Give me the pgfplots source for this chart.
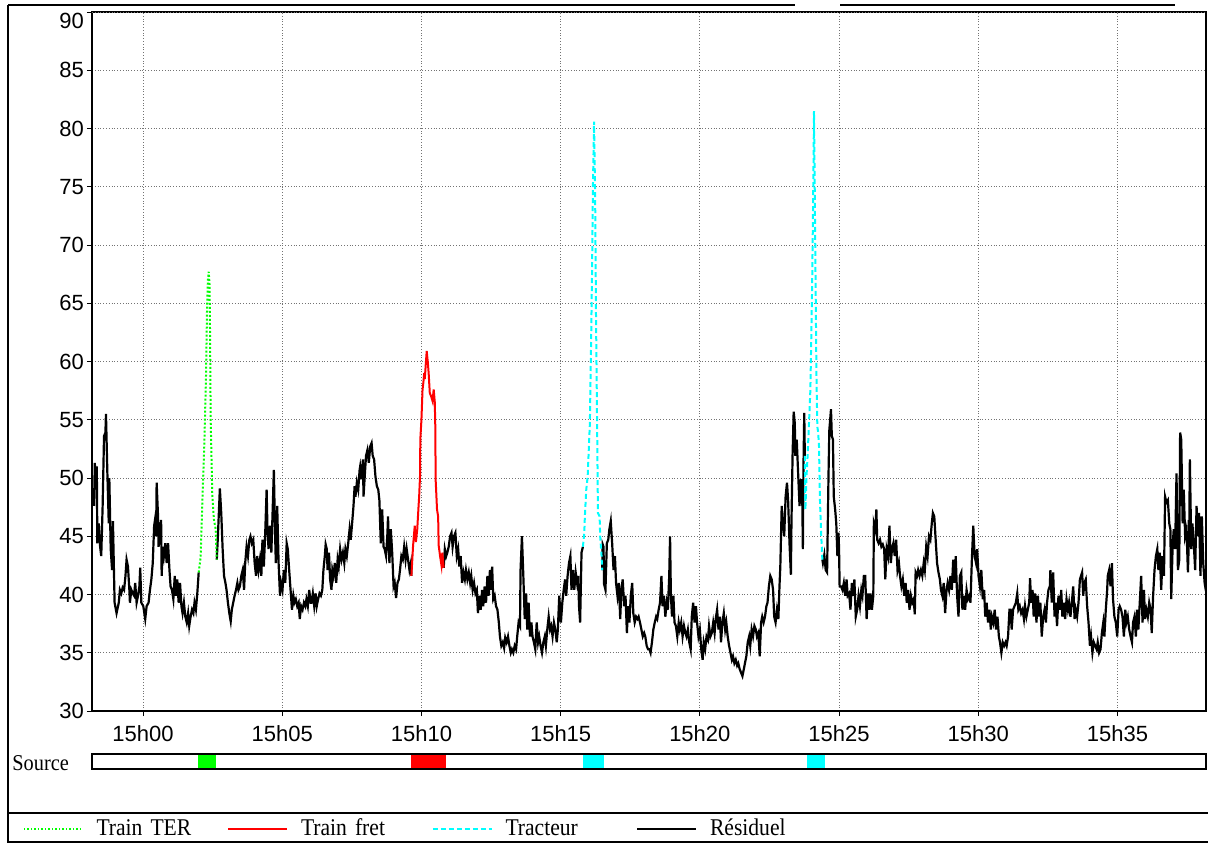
\documentclass[border=0pt]{standalone}
\usepackage{fontspec}
\setmainfont{Liberation Serif}[FakeStretch=0.9]
\newfontfamily\arial{Liberation Sans}
\usepackage{pgfplots}
\pgfplotsset{compat=1.18}
\definecolor{cTER}{RGB}{0,255,0}
\definecolor{cFret}{RGB}{255,0,0}
\definecolor{cTrac}{RGB}{0,255,255}
\begin{document}
\begin{tikzpicture}
\useasboundingbox (0,0) rectangle (604pt,-421.5pt);
\draw[line width=1pt] (4pt,-2.5pt) -- (4pt,-421.5pt);
\draw[line width=1pt] (4pt,-2.5pt) -- (397.5pt,-2.5pt);
\draw[line width=1pt] (420pt,-2.5pt) -- (587.5pt,-2.5pt);
\draw[line width=1pt] (4pt,-406.5pt) -- (604pt,-406.5pt);
\draw[line width=1pt] (4pt,-421pt) -- (604pt,-421pt);
\begin{axis}[
 at={(46pt,-355.5pt)}, anchor=south west,
 scale only axis, width=557pt, height=349.5pt,
 xmin=-1.832, xmax=38.18, ymin=30, ymax=90,
 xtick={0,5,...,35},
 xticklabels={15h00,15h05,15h10,15h15,15h20,15h25,15h30,15h35},
 ytick={30,35,...,85}, extra y ticks={90},
 extra y tick style={yticklabel style={yshift=-4.5pt}},
 grid=major, major grid style={densely dotted, gray!90!black, line width=0.5pt},
 tick align=outside, tick pos=left, major tick length=2.5pt,
 tick style={black, line width=0.5pt},
 axis line style={line width=1pt},
 ticklabel style={font=\arial\fontsize{11}{13}\selectfont},
 yticklabel style={xshift=2pt},
 xticklabel style={yshift=-1pt},
 /pgf/number format/assume math mode=true,
 legend columns=4,
 legend cell align=left,
 legend image code/.code={\draw[#1] (0pt,0pt) -- (29.5pt,0pt);},
 legend style={at={(-0.06194,-0.1688)}, anchor=west, draw=none, fill=none,
   inner sep=0pt, outer sep=0pt, font=\fontsize{12}{14}\selectfont,
   nodes={inner sep=0pt},
   /tikz/every odd column/.append style={column sep=6.5pt},
   /tikz/every even column/.append style={column sep=0pt}},
]
% Residuel segments
\addplot[black, line width=1.1pt, forget plot] coordinates {
(-1.76,47.6)(-1.73,51.3)(-1.70,49.0)(-1.66,51.0)(-1.64,44.4)(-1.59,46.1)(-1.54,44.1)(-1.50,43.3)(-1.45,47.6)(-1.40,53.6)(-1.35,53.9)(-1.33,55.5)(-1.28,50.4)(-1.23,46.1)(-1.21,50.0)(-1.16,43.9)(-1.11,42.1)(-1.08,46.3)(-1.04,41.6)(-1.02,39.3)(-0.95,38.4)(-0.87,39.3)(-0.83,40.4)(-0.78,40.1)(-0.73,40.6)(-0.68,40.4)(-0.63,41.6)(-0.59,43.0)(-0.54,42.4)(-0.49,40.4)(-0.47,39.3)(-0.42,40.4)(-0.37,40.1)(-0.32,39.9)(-0.28,41.0)(-0.23,39.3)(-0.18,39.9)(-0.13,40.7)(-0.10,42.3)(-0.06,39.3)(0.01,39.0)(0.08,37.9)(0.13,39.0)(0.20,39.3)(0.25,40.4)(0.30,41.3)(0.35,42.7)(0.40,45.9)(0.43,46.4)(0.47,45.0)(0.49,49.6)(0.54,46.7)(0.56,44.1)(0.61,45.6)(0.65,46.4)(0.67,41.6)(0.71,44.1)(0.75,43.3)(0.80,44.4)(0.85,42.7)(0.90,44.4)(0.95,42.1)(0.99,40.7)(1.04,40.4)(1.09,39.6)(1.14,41.6)(1.18,39.9)(1.23,41.3)(1.28,39.3)(1.33,41.0)(1.38,39.0)(1.42,38.4)(1.47,39.3)(1.52,38.1)(1.57,37.6)(1.62,38.4)(1.66,37.3)(1.71,38.1)(1.76,38.7)(1.81,38.4)(1.85,39.3)(1.90,38.7)(1.95,40.1)(2.00,41.9)
};
\addplot[black, line width=1.1pt, forget plot] coordinates {
(2.65,43.0)(2.69,45.0)(2.76,49.1)(2.81,47.0)(2.86,43.9)(2.91,41.6)(2.96,41.0)(3.00,40.4)(3.05,39.3)(3.10,38.4)(3.15,37.7)(3.19,38.7)(3.24,39.3)(3.29,39.9)(3.34,40.4)(3.39,41.0)(3.43,40.4)(3.48,40.7)(3.53,41.6)(3.58,42.1)(3.63,40.4)(3.67,42.7)(3.72,44.1)(3.77,43.3)(3.82,44.7)(3.86,45.0)(3.91,44.4)(3.96,44.7)(4.01,42.7)(4.06,41.6)(4.10,43.3)(4.15,42.1)(4.20,43.0)(4.25,41.6)(4.29,44.7)(4.34,42.4)(4.39,45.3)(4.44,49.0)(4.47,45.6)(4.51,43.9)(4.56,45.9)(4.61,43.6)(4.65,46.7)(4.70,50.7)(4.74,45.6)(4.77,42.7)(4.82,47.6)(4.87,42.7)(4.92,39.9)(4.96,41.0)(5.01,40.4)(5.06,42.1)(5.11,41.0)(5.16,44.4)(5.20,43.9)(5.25,42.1)(5.30,40.4)(5.35,38.7)(5.40,39.9)(5.44,39.3)(5.49,39.6)(5.54,39.0)(5.59,39.3)(5.63,37.9)(5.68,39.0)(5.73,38.7)(5.78,39.3)(5.83,39.0)(5.87,39.6)(5.92,39.0)(5.97,40.4)(6.02,39.3)(6.05,39.3)(6.10,40.1)(6.15,39.0)(6.20,40.1)(6.24,39.0)(6.29,39.6)(6.34,40.1)(6.39,39.9)(6.44,40.4)(6.48,42.1)(6.53,43.3)(6.56,44.3)(6.60,43.9)(6.63,42.1)(6.68,43.6)(6.72,41.3)(6.77,40.4)(6.80,42.1)(6.84,41.6)(6.89,42.7)(6.94,41.0)(6.99,43.0)(7.03,42.4)(7.08,43.9)(7.13,43.0)(7.18,43.6)(7.23,42.7)(7.27,43.9)(7.32,43.3)(7.37,44.4)(7.42,45.6)(7.46,44.7)(7.51,46.1)(7.56,47.6)(7.60,49.3)(7.63,48.4)(7.68,49.6)(7.73,49.0)(7.78,50.7)(7.80,51.0)(7.85,49.9)(7.90,51.6)(7.92,48.4)(7.97,50.4)(8.01,51.9)(8.06,52.4)(8.11,51.3)(8.16,52.7)(8.21,53.0)(8.25,51.9)(8.30,51.6)(8.35,50.1)(8.40,49.3)(8.45,49.0)(8.49,48.1)(8.54,44.4)(8.59,47.3)(8.64,44.1)(8.68,43.9)(8.73,43.3)(8.78,45.3)(8.80,46.7)(8.85,42.7)(8.90,45.6)(8.95,43.6)(9.00,40.7)(9.04,41.0)(9.09,39.7)(9.14,41.0)(9.19,41.3)(9.23,42.1)(9.28,43.3)(9.33,43.0)(9.38,44.1)(9.43,43.0)(9.47,43.9)(9.52,43.0)(9.57,42.1)(9.62,42.7)(9.64,41.6)
};
\addplot[black, line width=1.1pt, forget plot] coordinates {
(10.80,42.3)(10.84,43.9)(10.89,43.3)(10.93,43.6)(10.98,44.1)(11.03,45.0)(11.08,45.3)(11.12,44.1)(11.17,45.0)(11.22,45.3)(11.27,43.3)(11.32,43.9)(11.36,42.4)(11.41,43.3)(11.46,41.0)(11.51,41.9)(11.56,41.3)(11.60,42.1)(11.65,41.3)(11.70,41.9)(11.75,41.0)(11.79,41.6)(11.84,40.4)(11.89,41.0)(11.94,40.1)(11.99,40.4)(12.03,38.4)(12.08,39.9)(12.13,38.7)(12.18,40.4)(12.22,39.0)(12.27,40.7)(12.32,39.3)(12.37,41.6)(12.42,39.9)(12.46,42.1)(12.51,40.4)(12.54,42.4)(12.58,39.6)(12.63,39.9)(12.68,39.0)(12.73,38.7)(12.78,37.6)(12.82,36.4)(12.87,35.6)(12.92,35.9)(12.97,35.4)(13.01,36.3)(13.06,35.9)(13.11,36.4)(13.16,35.6)(13.21,35.0)(13.25,35.3)(13.30,35.0)(13.35,35.6)(13.40,35.3)(13.44,36.4)(13.49,37.6)(13.54,37.3)(13.56,42.1)(13.61,45.0)(13.66,41.6)(13.71,37.9)(13.76,40.1)(13.80,37.0)(13.85,39.3)(13.90,36.4)(13.95,37.6)(13.99,36.4)(14.04,35.9)(14.09,35.3)(14.14,37.6)(14.19,35.9)(14.23,36.4)(14.28,35.6)(14.33,35.0)(14.38,35.9)(14.43,36.4)(14.47,35.6)(14.52,37.0)(14.57,38.1)(14.62,37.0)(14.66,37.3)(14.71,36.4)(14.76,37.6)(14.81,37.0)(14.86,35.9)(14.90,37.0)(14.95,39.9)(15.01,37.6)(15.06,39.3)(15.11,40.4)(15.16,41.3)(15.20,39.9)(15.25,41.6)(15.30,42.7)(15.35,43.3)(15.39,40.4)(15.44,42.1)(15.49,40.4)(15.54,41.9)(15.59,41.0)(15.63,41.6)(15.66,39.0)(15.70,37.6)(15.75,43.6)(15.80,44.1)
};
\addplot[black, line width=1.1pt, forget plot] coordinates {
(16.49,42.1)(16.51,44.3)(16.54,44.1)(16.56,40.9)(16.61,40.4)(16.66,44.4)(16.71,44.7)(16.75,45.6)(16.80,46.3)(16.85,44.4)(16.90,42.1)(16.95,43.3)(16.99,41.0)(17.04,39.9)(17.09,41.0)(17.14,37.9)(17.18,40.4)(17.23,41.3)(17.28,39.0)(17.33,39.9)(17.38,36.7)(17.42,39.0)(17.47,37.6)(17.52,39.9)(17.57,41.0)(17.61,38.4)(17.66,37.6)(17.71,38.1)(17.76,37.9)(17.80,38.1)(17.85,37.6)(17.90,37.0)(17.95,36.4)(18.00,36.7)(18.04,36.4)(18.09,35.6)(18.14,35.3)(18.19,35.3)(18.23,35.0)(18.28,35.9)(18.33,37.0)(18.38,37.6)(18.43,38.1)(18.47,37.9)(18.52,38.7)(18.57,39.3)(18.62,41.6)(18.66,39.0)(18.71,39.9)(18.76,38.1)(18.81,39.3)(18.85,38.7)(18.90,41.6)(18.93,45.0)(18.96,39.9)(19.00,38.1)(19.05,39.9)(19.09,37.6)(19.14,37.3)(19.19,36.4)(19.24,37.6)(19.28,37.0)(19.33,37.6)(19.38,36.4)(19.43,37.3)(19.48,36.7)(19.52,36.4)(19.57,37.0)(19.62,35.9)(19.67,35.3)(19.71,38.1)(19.76,39.3)(19.81,37.6)(19.86,39.0)(19.90,37.6)(19.95,36.4)(20.00,37.0)(20.05,35.3)(20.10,34.4)(20.14,35.9)(20.19,35.3)(20.24,36.4)(20.29,36.1)(20.33,37.3)(20.38,36.4)(20.43,36.7)(20.48,37.6)(20.53,36.7)(20.57,37.9)(20.62,38.7)(20.67,37.0)(20.72,38.1)(20.76,35.9)(20.81,37.6)(20.86,38.4)(20.91,37.0)(20.95,37.6)(21.00,36.4)(21.05,35.6)(21.10,35.0)(21.15,34.4)(21.19,34.7)(21.24,34.1)(21.29,34.4)(21.34,33.9)(21.38,34.1)(21.43,33.6)(21.48,33.3)(21.53,33.0)(21.58,33.6)(21.62,34.1)(21.67,34.7)(21.72,35.9)(21.77,36.4)(21.81,35.6)(21.86,37.0)(21.91,36.4)(21.96,37.3)(22.01,37.0)(22.05,36.4)(22.10,36.7)(22.15,34.7)(22.20,37.6)(22.24,38.1)(22.29,37.6)(22.34,38.1)(22.39,39.0)(22.43,39.3)(22.48,40.7)(22.53,41.6)(22.58,41.3)(22.63,40.4)(22.67,38.1)(22.72,37.6)(22.77,38.7)(22.82,37.9)(22.86,40.7)(22.89,42.4)(22.94,47.6)(22.98,46.1)(23.03,45.0)(23.08,48.4)(23.13,49.6)(23.17,48.1)(23.22,44.4)(23.27,41.7)(23.29,46.1)(23.33,51.9)(23.37,55.7)(23.41,54.7)(23.43,51.9)(23.48,53.3)(23.53,50.4)(23.58,47.6)(23.63,49.9)(23.68,47.9)(23.70,43.9)(23.72,50.7)(23.75,55.6)(23.77,51.9)
};
\addplot[black, line width=1.1pt, forget plot] coordinates {
(24.40,43.0)(24.42,42.7)(24.47,43.4)(24.52,42.1)(24.57,41.9)(24.62,50.1)(24.65,54.1)(24.69,55.3)(24.71,55.9)(24.74,53.6)(24.78,53.3)(24.81,48.4)(24.86,47.3)(24.90,46.1)(24.94,43.3)(24.98,45.3)(25.00,43.9)(25.02,40.7)(25.07,40.7)(25.12,40.4)(25.17,41.0)(25.22,39.9)(25.27,41.3)(25.31,39.9)(25.36,40.1)(25.41,38.7)(25.46,41.0)(25.51,39.9)(25.55,41.3)(25.60,38.1)(25.65,38.7)(25.70,39.9)(25.75,39.0)(25.80,40.4)(25.84,39.9)(25.89,41.6)(25.94,41.6)(25.99,37.9)(26.04,40.1)(26.09,38.7)(26.13,40.1)(26.18,38.7)(26.23,39.9)(26.25,46.1)(26.30,45.6)(26.34,47.3)(26.37,44.7)(26.42,44.4)(26.47,44.7)(26.52,44.1)(26.57,44.3)(26.62,43.9)(26.66,41.3)(26.71,43.9)(26.76,43.3)(26.81,45.9)(26.86,42.7)(26.90,43.9)(26.95,44.4)(27.00,43.3)(27.05,44.7)(27.10,42.1)(27.15,42.7)(27.19,41.6)(27.24,40.7)(27.29,41.3)(27.34,39.9)(27.39,41.0)(27.43,39.3)(27.48,40.4)(27.53,38.7)(27.58,39.9)(27.63,39.3)(27.68,39.6)(27.72,38.3)(27.75,41.9)(27.80,41.6)(27.84,42.1)(27.89,41.6)(27.94,42.1)(27.99,41.6)(28.04,42.7)(28.08,42.1)(28.13,44.1)(28.18,43.3)(28.23,45.0)(28.28,44.7)(28.33,46.1)(28.37,47.0)(28.42,46.7)(28.47,44.7)(28.52,42.7)(28.57,41.9)(28.62,41.3)(28.66,40.4)(28.71,39.9)(28.76,41.0)(28.81,38.4)(28.86,40.4)(28.90,41.0)(28.95,40.4)(29.00,41.6)(29.05,40.4)(29.10,43.0)(29.15,41.0)(29.19,43.3)(29.24,39.9)(29.29,38.1)(29.34,41.6)(29.39,41.9)(29.43,38.7)(29.48,39.9)(29.53,38.7)(29.58,40.4)(29.63,39.6)(29.68,39.9)(29.72,39.3)(29.77,43.0)(29.82,45.9)(29.87,43.3)(29.92,42.7)(29.96,43.9)(30.01,41.6)(30.06,40.7)(30.11,42.1)(30.16,39.6)(30.21,40.4)(30.25,38.1)(30.30,39.3)(30.35,37.6)(30.40,38.7)(30.45,37.0)(30.49,38.1)(30.54,37.6)(30.59,38.7)(30.64,37.0)(30.69,38.1)(30.74,36.4)(30.78,35.9)(30.83,35.0)(30.88,35.9)(30.93,35.6)(30.98,35.9)(31.02,35.6)(31.07,36.4)(31.12,38.7)(31.16,38.7)(31.20,37.0)(31.25,38.7)(31.30,39.0)(31.35,39.3)(31.40,40.1)(31.44,38.7)(31.49,39.0)(31.54,38.4)(31.59,38.7)(31.64,37.9)(31.68,39.0)(31.73,38.1)(31.78,38.7)(31.83,39.3)(31.86,41.4)(31.90,39.3)(31.95,40.4)(31.99,38.1)(32.04,40.1)(32.09,37.6)(32.14,39.9)(32.19,38.1)(32.23,39.3)(32.28,36.4)(32.33,38.1)(32.38,38.7)(32.43,37.6)(32.47,39.3)(32.52,40.4)(32.57,40.7)(32.59,42.1)(32.64,39.3)(32.69,41.9)(32.74,38.1)(32.78,39.3)(32.83,37.3)(32.88,39.9)(32.93,38.7)(32.98,40.4)(33.02,38.1)(33.07,39.3)(33.12,37.9)(33.17,39.6)(33.22,38.7)(33.26,39.3)(33.31,38.1)(33.36,39.3)(33.41,40.7)(33.46,37.9)(33.50,38.7)(33.55,38.1)(33.60,39.3)(33.65,41.3)(33.69,41.6)(33.73,41.9)(33.77,39.9)(33.81,41.0)(33.86,41.3)(33.91,39.0)(33.96,37.6)(34.01,35.6)(34.05,36.4)(34.10,35.0)(34.15,35.9)(34.20,35.6)(34.25,35.3)(34.29,35.9)(34.34,35.0)(34.39,35.3)(34.44,36.7)(34.49,37.6)(34.53,36.4)(34.58,38.7)(34.63,40.4)(34.65,41.6)(34.70,42.1)(34.75,40.7)(34.80,42.7)(34.84,39.6)(34.89,38.1)(34.94,37.6)(34.99,36.4)(35.04,38.7)(35.08,39.0)(35.13,38.7)(35.18,38.1)(35.23,36.4)(35.28,38.7)(35.32,37.6)(35.37,38.1)(35.42,37.0)(35.47,36.4)(35.52,35.9)(35.56,37.6)(35.61,38.1)(35.66,36.4)(35.71,38.7)(35.75,37.0)(35.80,39.3)(35.85,41.6)(35.90,37.6)(35.95,40.4)(35.99,37.9)(36.04,38.7)(36.09,38.1)(36.14,39.3)(36.19,38.7)(36.23,36.7)(36.28,39.9)(36.33,42.1)(36.38,43.3)(36.43,43.9)(36.47,42.1)(36.52,43.6)(36.57,40.4)(36.62,43.3)(36.67,41.6)(36.71,48.4)(36.76,47.9)(36.81,48.1)(36.86,46.1)(36.90,45.6)(36.93,39.6)(36.98,44.1)(37.02,45.6)(37.07,43.9)(37.12,50.4)(37.17,42.1)(37.22,43.0)(37.25,53.9)(37.29,53.3)(37.34,46.1)(37.38,49.0)(37.43,45.0)(37.48,45.6)(37.53,41.9)(37.58,46.1)(37.60,51.6)(37.65,43.9)(37.69,46.1)(37.74,44.4)(37.79,42.1)(37.84,47.6)(37.89,45.0)(37.93,47.0)(37.98,41.6)(38.03,46.7)(38.08,42.7)(38.13,41.0)(38.17,40.4)(38.22,39.9)
};
% Train TER
\addplot[cTER, densely dotted, line width=1pt, forget plot] coordinates {
(2.00,41.9)(2.07,43.2)(2.13,47.9)(2.20,52.7)(2.26,58.4)(2.30,64.5)(2.33,67.0)(2.36,67.7)(2.39,66.6)(2.41,62.0)(2.43,55.0)(2.49,48.4)(2.55,46.4)(2.61,45.6)(2.65,43.0)
};
% Train fret
\addplot[cFret, line width=1pt, forget plot] coordinates {
(9.64,41.6)(9.70,44.2)(9.76,45.9)(9.80,44.5)(9.85,45.6)(9.89,47.3)(9.92,48.5)(9.95,50.2)(9.96,53.3)(10.00,55.0)(10.04,57.6)(10.07,58.2)(10.10,59.0)(10.12,58.5)(10.16,59.9)(10.19,60.9)(10.23,59.9)(10.26,59.0)(10.30,57.3)(10.35,57.0)(10.40,56.6)(10.44,57.6)(10.48,56.5)(10.50,54.2)(10.51,49.9)(10.56,47.3)(10.60,46.7)(10.62,44.2)(10.67,43.3)(10.72,42.5)(10.75,43.6)(10.80,42.3)
};
% Tracteur
\addplot[cTrac, dash pattern=on 2.5pt off 1.5pt, line width=1pt, forget plot] coordinates {
(15.80,44.1)(15.85,45.3)(15.87,46.7)(15.92,49.0)(15.97,50.1)(16.01,52.4)(16.05,54.7)(16.09,61.0)(16.13,68.0)(16.16,75.0)(16.20,80.6)(16.24,74.0)(16.27,64.0)(16.30,57.0)(16.32,52.0)(16.34,47.0)(16.40,46.7)(16.42,45.0)(16.47,43.3)(16.49,42.1)
};
\addplot[cTrac, dash pattern=on 2.5pt off 1.5pt, line width=1pt, forget plot] coordinates {
(23.77,51.9)(23.79,47.3)(23.83,50.1)(23.87,51.9)(23.92,54.7)(23.97,57.6)(24.03,66.0)(24.07,74.0)(24.10,81.5)(24.13,74.0)(24.16,66.0)(24.19,58.4)(24.22,54.4)(24.25,53.9)(24.28,52.7)(24.31,48.4)(24.35,45.6)(24.40,43.0)
};
\addlegendimage{cTER, densely dotted, line width=0.75pt}
\addlegendentry[text width=65.5pt]{Train TER}
\addlegendimage{cFret, line width=0.75pt}
\addlegendentry[text width=65.5pt]{Train fret}
\addlegendimage{cTrac, dash pattern=on 2.5pt off 1.5pt, line width=0.75pt}
\addlegendentry[text width=65.5pt]{Tracteur}
\addlegendimage{black, line width=0.75pt}
\addlegendentry[text width=65.5pt]{Résiduel}
\end{axis}
\begin{axis}[
 at={(46pt,-384.5pt)}, anchor=south west,
 scale only axis, width=557pt, height=7.5pt,
 xmin=-1.832, xmax=38.18, ymin=0, ymax=1,
 xtick=\empty, ytick=\empty,
 axis line style={line width=0.75pt}, axis on top,
]
\addplot[fill=cTER, draw=none] coordinates {(1.98,1) (2.62,1)} \closedcycle;
\addplot[fill=cFret, draw=none] coordinates {(9.63,1) (10.88,1)} \closedcycle;
\addplot[fill=cTrac, draw=none] coordinates {(15.80,1) (16.56,1)} \closedcycle;
\addplot[fill=cTrac, draw=none] coordinates {(23.85,1) (24.50,1)} \closedcycle;
\end{axis}
\node[anchor=west, inner sep=0pt, font=\fontsize{11.3}{13}\selectfont] at (6pt,-381.5pt) {Source};
\end{tikzpicture}
\end{document}
